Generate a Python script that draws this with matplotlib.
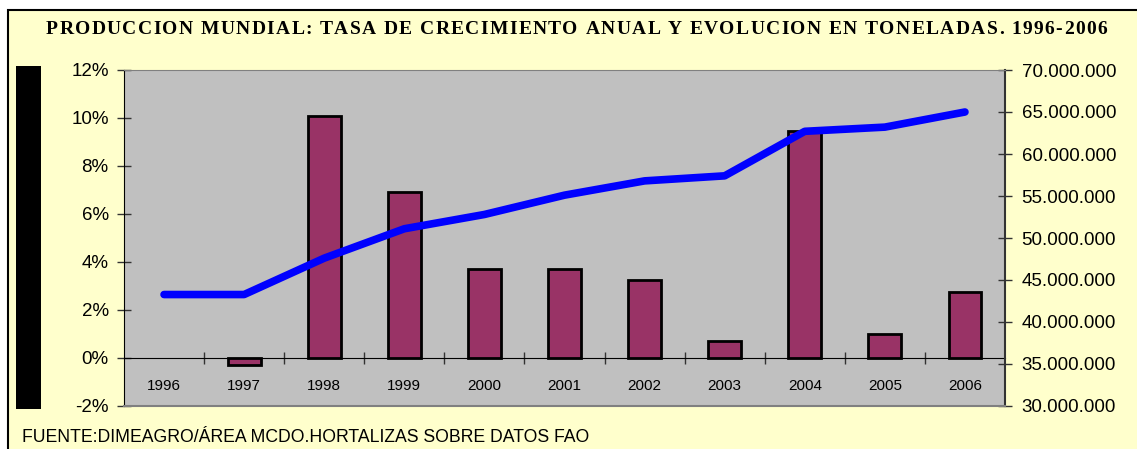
import matplotlib
matplotlib.use('Agg')
import matplotlib.pyplot as plt
from matplotlib.patches import Rectangle
from matplotlib.font_manager import FontProperties
from matplotlib.ticker import FuncFormatter

years = ['1996', '1997', '1998', '1999', '2000', '2001',
         '2002', '2003', '2004', '2005', '2006']
# no growth figure for the first year
growth = [float('nan'), -0.3, 10.1, 6.9, 3.7, 3.7, 3.27, 0.71, 9.47, 1.01, 2.77]
tonnes = [43.27e6, 43.27e6, 47.6e6, 51.1e6, 52.8e6, 55.1e6,
          56.8e6, 57.4e6, 62.7e6, 63.2e6, 65.0e6]

title = ('PRODUCCION MUNDIAL: TASA DE CRECIMIENTO ANUAL Y EVOLUCION '
         'EN TONELADAS. 1996-2006')
source = 'FUENTE:DIMEAGRO/ÁREA MCDO.HORTALIZAS SOBRE DATOS FAO'

W, H = 1137, 449
plt.rcParams['font.family'] = ['Liberation Sans', 'DejaVu Sans']

fig = plt.figure(figsize=(W / 100, H / 100), dpi=100, facecolor='white')

# outer yellow panel with black border
fig.patches.append(Rectangle((8 / W, -0.1), 1.2, (H - 10) / H + 0.1,
                             transform=fig.transFigure, facecolor='#FFFFCC',
                             edgecolor='black', linewidth=1.5, zorder=-10))
# black strip at left
fig.patches.append(Rectangle((16 / W, 1 - 409 / H), 25 / W, 343 / H,
                             transform=fig.transFigure, facecolor='black',
                             edgecolor='none', zorder=-5))

ax = fig.add_axes([124 / W, (H - 406) / H, 881 / W, 336 / H])
ax.set_facecolor('#C0C0C0')
x = list(range(len(years)))
ax.bar(x, growth, width=0.41, color='#993366', edgecolor='black',
       linewidth=2, zorder=3)
ax.set_xlim(-0.5, len(years) - 0.5)
ax.set_ylim(-2, 12)
ax.set_yticks(range(-2, 13, 2))
ax.yaxis.set_major_formatter(FuncFormatter(lambda v, p: f'{v:.0f}%'))
ax.tick_params(axis='y', direction='inout', length=10, width=1,
               labelsize=13.5, pad=6, color='#333333')

ax.spines['bottom'].set_position(('data', 0))
ax.spines['bottom'].set_color('black')
ax.spines['bottom'].set_zorder(2)
ax.spines['left'].set_color('black')
ax.spines['top'].set_visible(False)
ax.spines['right'].set_visible(False)
ax.set_xticks(x)
ax.set_xticklabels(years)
ax.set_xticks([i + 0.5 for i in x[:-1]], minor=True)
ax.tick_params(axis='x', which='major', length=0, pad=15, labelsize=11)
ax.tick_params(axis='x', which='minor', direction='inout', length=8,
               width=1, color='#333333')

ax2 = ax.twinx()
ax2.plot(x, tonnes, color='#0000FF', linewidth=5.5,
         solid_capstyle='round', solid_joinstyle='round')
ax2.set_ylim(30e6, 70e6)
ax2.set_yticks(range(30000000, 70000001, 5000000))
ax2.yaxis.set_major_formatter(
    FuncFormatter(lambda v, p: f'{int(v):,}'.replace(',', '.')))
ax2.tick_params(axis='y', direction='inout', length=10, width=1,
                labelsize=13.5, pad=7, color='#333333')
ax2.spines['left'].set_visible(False)
ax2.spines['right'].set_color('#333333')
ax2.spines['right'].set_linewidth(1.5)
ax2.spines['top'].set_color('#808080')
ax2.spines['bottom'].set_color('#808080')
ax2.spines['bottom'].set_linewidth(1.5)

# title with letter spacing, spread across the width
r = fig.canvas.get_renderer()
fp = FontProperties(family='Liberation Serif', weight='bold', size=14)
widths = [r.get_text_width_height_descent(c, fp, ismath=False)[0] for c in title]
x0, x1 = 46, 1107
gap = (x1 - x0 - sum(widths)) / (len(title) - 1)
pos = x0
for c, w in zip(title, widths):
    if c != ' ':
        fig.text(pos / W, 1 - 30 / H, c, fontproperties=fp,
                 ha='left', va='center')
    pos += w + gap

fig.text(22 / W, 1 - 438 / H, source, fontsize=12.7, ha='left', va='center')

fig.savefig('out.png', dpi=100, facecolor='white')
